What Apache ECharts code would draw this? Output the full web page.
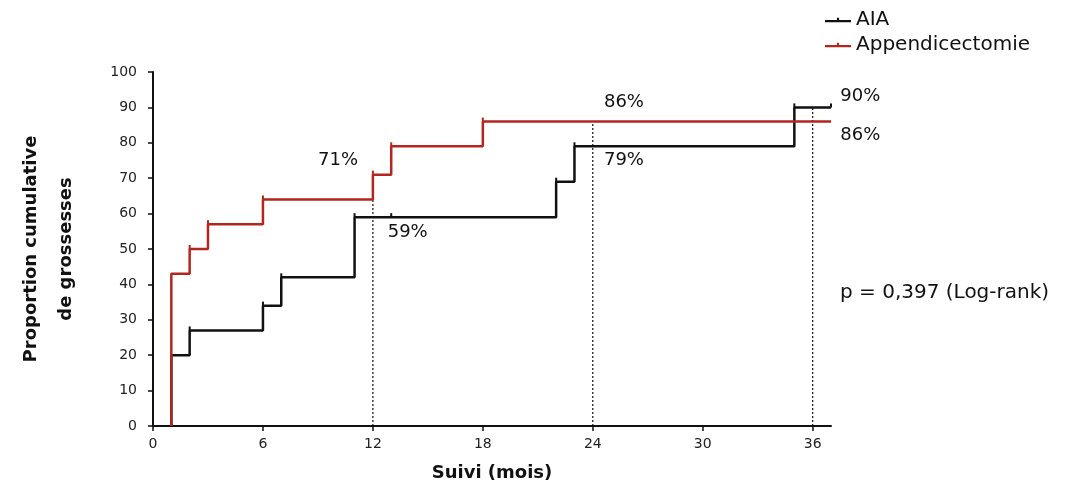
<!DOCTYPE html>
<html>
<head>
<meta charset="utf-8">
<script src="https://cdn.jsdelivr.net/npm/echarts@6/dist/echarts.min.js"></script>
<style>
  html, body { margin: 0; padding: 0; background: #fff; }
  #chart { width: 1074px; height: 487px; }
</style>
</head>
<body>
<div id="chart"></div>
<script>
// courbes de Kaplan-Meier (mois, %)
var aiaTimes = [1, 1, 2, 6, 7, 11, 22, 23, 35, 37];
var aiaValues = [0, 20, 27, 34, 42, 59, 69, 79, 90, 90];
var appTimes = [1, 1, 2, 3, 6, 12, 13, 18, 37];
var appValues = [0, 43, 50, 57, 64, 71, 79, 86, 86];

// petites marques de censure
var aiaCensorTimes = [2, 6, 7, 11, 13, 22, 23, 35, 37];
var aiaCensorValues = [27, 34, 42, 59, 59, 69, 79, 90, 90];
var appCensorTimes = [2, 3, 6, 12, 13, 18];
var appCensorValues = [50, 57, 64, 71, 79, 86];

// lignes pointillées de lecture
var dropTimes = [12, 24, 36];
var dropTops = [64, 86, 90];

// annotations
var noteTexts = ['71%', '59%', '86%', '79%', '90%', '86%'];
var noteX = [10.1, 13.9, 25.7, 25.7, 38.6, 38.6];
var noteY = [75, 54.8, 91.4, 75, 93, 82];

var xTicks = [0, 6, 12, 18, 24, 30, 36];

var red = '#b3261e';
var black = '#111111';
var font = '"DejaVu Sans", sans-serif';

var zip = function (xs, ys) {
    var out = [];
    for (var i = 0; i < xs.length; i++) {
        out.push([xs[i], ys[i]]);
    }
    return out;
};

var dropSeries = [];
for (var i = 0; i < dropTimes.length; i++) {
    dropSeries.push({
        type: 'line',
        silent: true,
        symbol: 'none',
        z: 1,
        lineStyle: { color: black, width: 1.2, type: [2, 2] },
        data: [[dropTimes[i], 0], [dropTimes[i], dropTops[i]]]
    });
}

// trait + petite marque, comme dans la légende d'origine
var legendIcon = 'path://M0,5H24V7H0Z M11,3H13V7H11Z';

var chart = echarts.init(document.getElementById('chart'));
var option = {
    animation: false,
    textStyle: { fontFamily: font },
    grid: { left: 153, right: 243, top: 72, bottom: 61, outerBoundsMode: 'none', containLabel: false },
    legend: {
        orient: 'vertical',
        left: 820,
        top: 5,
        itemGap: 5,
        itemWidth: 26,
        itemHeight: 8,
        textStyle: { fontSize: 20, color: '#111', fontFamily: font },
        data: [
            { name: 'AIA', icon: legendIcon },
            { name: 'Appendicectomie', icon: legendIcon }
        ]
    },
    xAxis: {
        type: 'value',
        min: 0,
        max: 37,
        interval: 6,
        splitLine: { show: false },
        axisLine: { lineStyle: { color: black, width: 2 } },
        axisTick: { length: 5, lineStyle: { color: black, width: 1.5 }, customValues: xTicks },
        axisLabel: { fontSize: 14, color: '#222', margin: 11, customValues: xTicks },
        name: 'Suivi (mois)',
        nameLocation: 'middle',
        nameGap: 38,
        nameTextStyle: { fontSize: 18, fontWeight: 'bold', color: '#111', fontFamily: font }
    },
    yAxis: {
        type: 'value',
        min: 0,
        max: 100,
        interval: 10,
        splitLine: { show: false },
        axisLine: { show: true, lineStyle: { color: black, width: 2 } },
        axisTick: { show: true, length: 5, lineStyle: { color: black, width: 1.5 } },
        axisLabel: { fontSize: 14, color: '#222', margin: 16 },
        name: 'Proportion cumulative\nde grossesses',
        nameLocation: 'middle',
        nameGap: 69,
        nameTextStyle: { fontSize: 18, fontWeight: 'bold', color: '#111', lineHeight: 35, fontFamily: font }
    },
    graphic: [{
        type: 'text',
        left: 840,
        top: 283,
        style: { text: 'p = 0,397 (Log-rank)', fontSize: 20, fill: '#111', fontFamily: font }
    }],
    series: dropSeries.concat([
        {
            name: 'AIA',
            type: 'line',
            step: 'end',
            symbol: 'none',
            z: 3,
            color: black,
            lineStyle: { color: black, width: 2.5 },
            data: zip(aiaTimes, aiaValues)
        },
        {
            name: 'Appendicectomie',
            type: 'line',
            step: 'end',
            symbol: 'none',
            z: 4,
            color: red,
            lineStyle: { color: red, width: 2.5 },
            data: zip(appTimes, appValues)
        },
        {
            type: 'scatter',
            silent: true,
            z: 3,
            symbol: 'rect',
            symbolSize: [2, 4],
            symbolOffset: [0, -2],
            itemStyle: { color: black, opacity: 1 },
            data: zip(aiaCensorTimes, aiaCensorValues)
        },
        {
            type: 'scatter',
            silent: true,
            z: 4,
            symbol: 'rect',
            symbolSize: [2, 4],
            symbolOffset: [0, -2],
            itemStyle: { color: red, opacity: 1 },
            data: zip(appCensorTimes, appCensorValues)
        },
        {
            type: 'scatter',
            silent: true,
            clip: false,
            symbolSize: 0,
            itemStyle: { opacity: 1 },
            label: {
                show: true,
                position: 'inside',
                fontSize: 18,
                color: '#111',
                fontFamily: font,
                formatter: function (p) { return noteTexts[p.dataIndex]; }
            },
            data: zip(noteX, noteY)
        }
    ])
};
chart.setOption(option);
</script>
</body>
</html>
